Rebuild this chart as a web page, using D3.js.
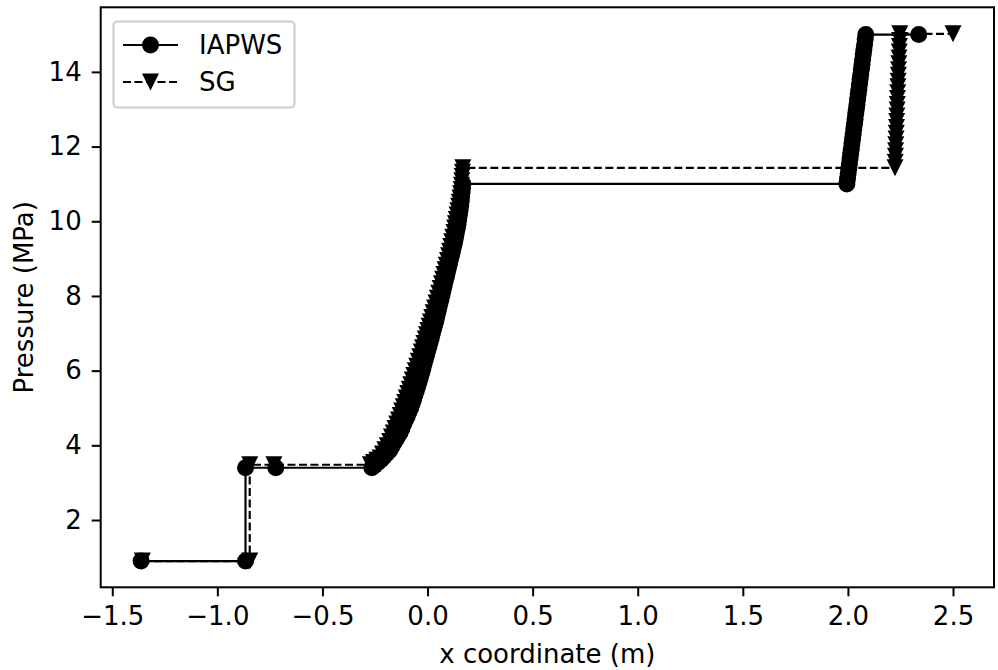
<!DOCTYPE html>
<html>
<head>
<meta charset="utf-8">
<script src="https://cdn.jsdelivr.net/npm/d3@7"></script>
<style>
  html, body { margin: 0; padding: 0; background: #fff; }
  svg { display: block; font-family: "DejaVu Sans", sans-serif; }
</style>
</head>
<body>
<svg id="chart" width="998" height="670"></svg>
<script>
// ---------- data ----------
const seriesNames = ["IAPWS", "SG"];

const iapwsX = [-1.363, -0.866, -0.866, -0.722,
  -0.265, -0.25, -0.235, -0.22, -0.2067, -0.1933, -0.18,
  -0.17, -0.16, -0.15, -0.14, -0.13,
  -0.1217, -0.1133, -0.105, -0.0967, -0.0883, -0.08,
  -0.0733, -0.0667, -0.06, -0.0533, -0.0467, -0.04,
  -0.034, -0.028, -0.022, -0.016, -0.010, -0.004, 0.002,
  0.0074, 0.0129, 0.0183, 0.0237, 0.0291, 0.0346, 0.04,
  0.045, 0.05, 0.055, 0.06, 0.065, 0.07, 0.075, 0.08,
  0.085, 0.09, 0.095, 0.10, 0.105, 0.11,
  0.1145, 0.119, 0.1235, 0.128,
  0.1323, 0.1365, 0.1408, 0.145,
  0.1483, 0.1515, 0.1548, 0.158,
  0.160, 0.162, 0.164, 0.166, 0.168,
  1.995, 1.998, 2.001, 2.004, 2.007, 2.010, 2.013, 2.016, 2.019, 2.022, 2.025,
  2.028, 2.031, 2.034, 2.037, 2.040, 2.043, 2.046, 2.049, 2.052, 2.055, 2.058,
  2.061, 2.064, 2.067, 2.070, 2.073, 2.076, 2.079, 2.082, 2.085,
  2.337];
const iapwsP = [0.90, 0.90, 3.40, 3.40,
  3.40, 3.47, 3.55, 3.62, 3.70, 3.79, 3.87,
  3.97, 4.06, 4.16, 4.25, 4.35,
  4.46, 4.57, 4.68, 4.78, 4.89, 5.00,
  5.12, 5.23, 5.35, 5.47, 5.58, 5.70,
  5.82, 5.94, 6.06, 6.19, 6.31, 6.43, 6.55,
  6.66, 6.78, 6.89, 7.01, 7.12, 7.24, 7.35,
  7.47, 7.59, 7.71, 7.83, 7.94, 8.06, 8.18, 8.30,
  8.42, 8.53, 8.65, 8.77, 8.88, 9.00,
  9.105, 9.21, 9.315, 9.42,
  9.545, 9.67, 9.795, 9.92,
  10.045, 10.17, 10.295, 10.42,
  10.536, 10.652, 10.768, 10.884, 11.00,
  11.00, 11.13, 11.27, 11.40, 11.53, 11.67, 11.80, 11.93, 12.07, 12.20, 12.33,
  12.47, 12.60, 12.73, 12.87, 13.00, 13.13, 13.27, 13.40, 13.53, 13.67, 13.80,
  13.93, 14.07, 14.20, 14.33, 14.47, 14.60, 14.73, 14.87, 15.00,
  15.00];

const sgX = [-1.357, -0.846, -0.846, -0.731,
  -0.272, -0.2567, -0.2413, -0.226,
  -0.2145, -0.203, -0.1915, -0.18,
  -0.1717, -0.1633, -0.155, -0.1467, -0.1383, -0.13,
  -0.1229, -0.1157, -0.1086, -0.1014, -0.0943, -0.0871, -0.08,
  -0.0729, -0.0657, -0.0586, -0.0514, -0.0443, -0.0371, -0.03,
  -0.0238, -0.0175, -0.0113, -0.005, 0.0013, 0.0075, 0.0138, 0.02,
  0.0267, 0.0333, 0.04, 0.0467, 0.0533, 0.06,
  0.0658, 0.0717, 0.0775, 0.0833, 0.0892, 0.095,
  0.10, 0.105, 0.11, 0.115, 0.12, 0.125,
  0.1288, 0.1327, 0.1365, 0.1403, 0.1442, 0.148,
  0.151, 0.154, 0.157, 0.16,
  0.1616, 0.1632, 0.1648, 0.1664, 0.168,
  2.224, 2.225, 2.226, 2.227, 2.228, 2.229, 2.230, 2.231, 2.232, 2.233, 2.234,
  2.235, 2.236, 2.237, 2.238, 2.239, 2.240, 2.241, 2.242, 2.243, 2.244, 2.245,
  2.246, 2.247,
  2.500];
const sgP = [0.90, 0.90, 3.48, 3.48,
  3.48, 3.54, 3.60, 3.66,
  3.77, 3.88, 3.99, 4.10,
  4.22, 4.33, 4.45, 4.57, 4.68, 4.80,
  4.92, 5.03, 5.15, 5.27, 5.39, 5.50, 5.62,
  5.75, 5.87, 6.00, 6.12, 6.25, 6.37, 6.50,
  6.615, 6.73, 6.845, 6.96, 7.075, 7.19, 7.305, 7.42,
  7.55, 7.68, 7.81, 7.94, 8.07, 8.20,
  8.325, 8.45, 8.575, 8.70, 8.825, 8.95,
  9.075, 9.20, 9.325, 9.45, 9.575, 9.70,
  9.817, 9.933, 10.05, 10.167, 10.283, 10.40,
  10.51, 10.625, 10.74, 10.85,
  10.966, 11.082, 11.198, 11.314, 11.43,
  11.43, 11.58, 11.74, 11.89, 12.05, 12.20, 12.36, 12.51, 12.67, 12.82, 12.98,
  13.13, 13.29, 13.44, 13.60, 13.75, 13.91, 14.06, 14.22, 14.37, 14.53, 14.68,
  14.84, 15.02,
  15.02];

const xTicks = [-1.5, -1.0, -0.5, 0.0, 0.5, 1.0, 1.5, 2.0, 2.5];
const yTicks = [2, 4, 6, 8, 10, 12, 14];
const xLabel = "x coordinate (m)";
const yLabel = "Pressure (MPa)";

// ---------- layout ----------
const FS = 26;
const svg = d3.select("#chart");
const plot = { left: 100.7, right: 994, top: 7.3, bottom: 587.3 };

const x = d3.scaleLinear().domain([-1.555, 2.695]).range([plot.left, plot.right]);
const y = d3.scaleLinear().domain([0.198, 15.73]).range([plot.bottom, plot.top]);

const fmtX = v => v.toFixed(1).replace("-", "\u2212");

// axes
const xAxis = d3.axisBottom(x).tickValues(xTicks).tickFormat(fmtX).tickSize(9).tickPadding(10);
const yAxis = d3.axisLeft(y).tickValues(yTicks).tickFormat(d3.format("d")).tickSize(9).tickPadding(10);

const gx = svg.append("g").attr("transform", `translate(0,${plot.bottom})`).call(xAxis);
const gy = svg.append("g").attr("transform", `translate(${plot.left},0)`).call(yAxis);
[gx, gy].forEach(g => {
  g.select(".domain").remove();
  g.selectAll(".tick line").attr("stroke", "#000").attr("stroke-width", 2);
  g.selectAll(".tick text").attr("font-family", "DejaVu Sans").attr("font-size", FS).attr("fill", "#000");
});

// clip for data
svg.append("clipPath").attr("id", "clip").append("rect")
  .attr("x", plot.left).attr("y", plot.top)
  .attr("width", plot.right - plot.left).attr("height", plot.bottom - plot.top);

const dataG = svg.append("g").attr("clip-path", "url(#clip)");

const line = d3.line().x(d => x(d[0])).y(d => y(d[1]));
const iapws = iapwsX.map((v, i) => [v, iapwsP[i]]);
const sg = sgX.map((v, i) => [v, sgP[i]]);

const triPath = "M-8.5,-8.5L8.5,-8.5L0,8.5Z";

// IAPWS
dataG.append("path").datum(iapws).attr("d", line)
  .attr("fill", "none").attr("stroke", "#000").attr("stroke-width", 2.2);
dataG.selectAll("circle.iapws").data(iapws).join("circle")
  .attr("class", "iapws").attr("cx", d => x(d[0])).attr("cy", d => y(d[1])).attr("r", 8.5)
  .attr("fill", "#000");

// SG
dataG.append("path").datum(sg).attr("d", line)
  .attr("fill", "none").attr("stroke", "#000").attr("stroke-width", 2.2)
  .attr("stroke-dasharray", "8,3.5");
dataG.selectAll("path.sg").data(sg).join("path")
  .attr("class", "sg").attr("d", triPath)
  .attr("transform", d => `translate(${x(d[0])},${y(d[1])})`)
  .attr("fill", "#000");

// frame
svg.append("rect").attr("x", plot.left).attr("y", plot.top)
  .attr("width", plot.right - plot.left).attr("height", plot.bottom - plot.top)
  .attr("fill", "none").attr("stroke", "#000").attr("stroke-width", 2);

// axis labels
svg.append("text").attr("x", (plot.left + plot.right) / 2).attr("y", 663)
  .attr("text-anchor", "middle").attr("font-size", FS).attr("fill", "#000").text(xLabel);
svg.append("text").attr("transform", `translate(24,${(plot.top + plot.bottom) / 2}) rotate(-90)`)
  .attr("text-anchor", "middle").attr("dy", "0.35em")
  .attr("font-size", FS).attr("fill", "#000").text(yLabel);

// legend
const lg = svg.append("g");
lg.append("rect").attr("x", 113.5).attr("y", 21.5).attr("width", 181).attr("height", 86)
  .attr("rx", 4).attr("fill", "#fff").attr("fill-opacity", 0.8)
  .attr("stroke", "#ccc").attr("stroke-width", 2);
const rows = [
  { name: seriesNames[0], y: 45, dash: null, marker: "circle" },
  { name: seriesNames[1], y: 82, dash: "8,3.5", marker: "tri" }
];
rows.forEach(r => {
  lg.append("line").attr("x1", 123).attr("x2", 178).attr("y1", r.y).attr("y2", r.y)
    .attr("stroke", "#000").attr("stroke-width", 2.2)
    .attr("stroke-dasharray", r.dash);
  if (r.marker === "circle") {
    lg.append("circle").attr("cx", 150.5).attr("cy", r.y).attr("r", 8.5).attr("fill", "#000");
  } else {
    lg.append("path").attr("d", triPath).attr("transform", `translate(150.5,${r.y})`).attr("fill", "#000");
  }
  lg.append("text").attr("x", 199).attr("y", r.y).attr("dy", "0.36em")
    .attr("font-size", FS).attr("fill", "#000").text(r.name);
});
</script>
</body>
</html>
